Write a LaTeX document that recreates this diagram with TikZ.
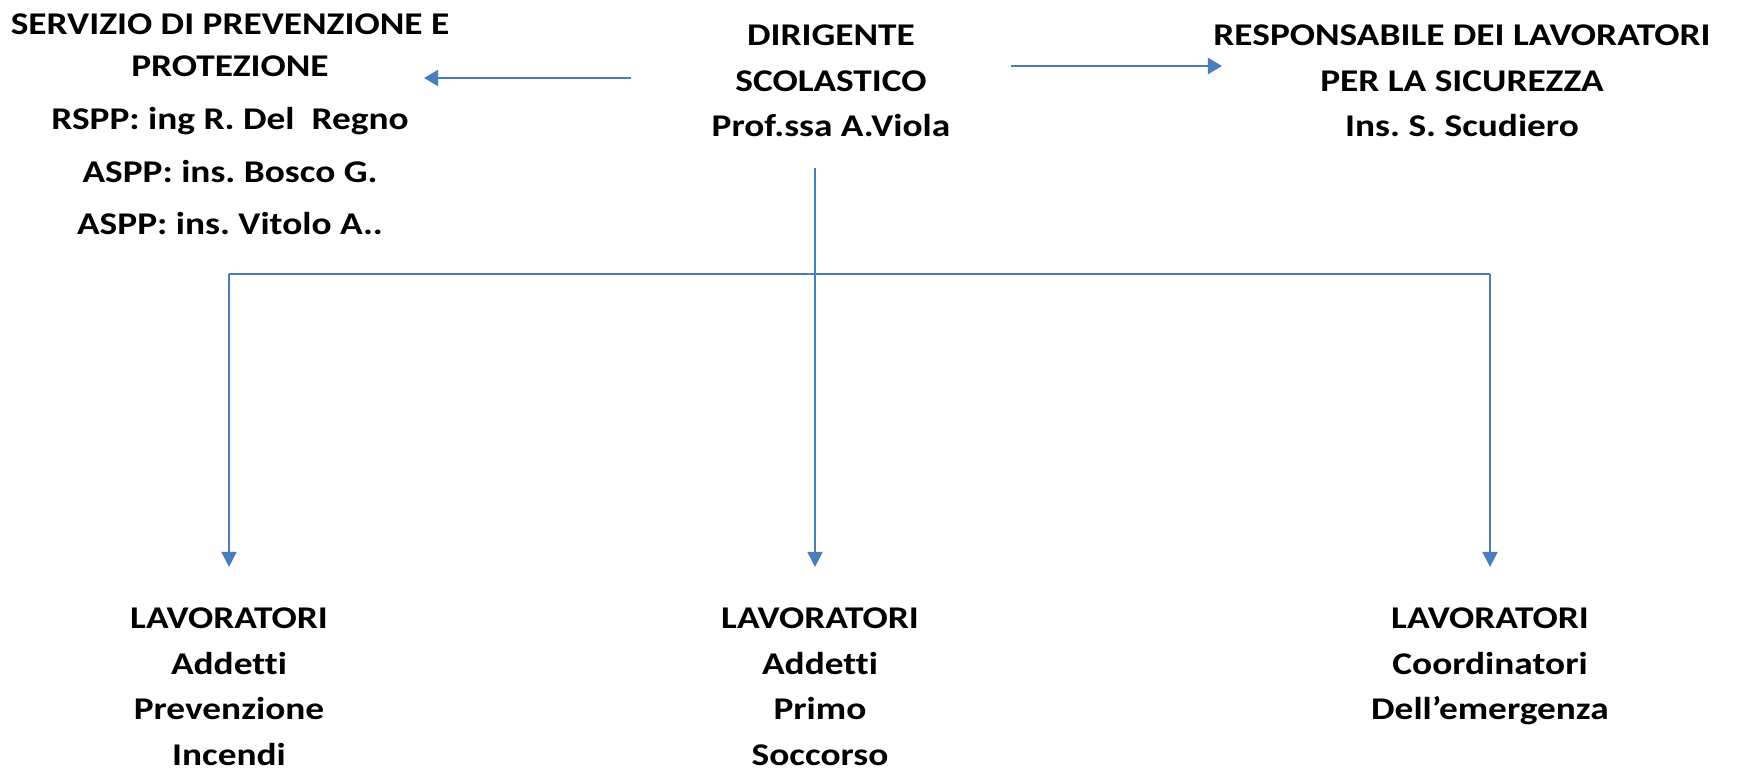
\documentclass[tikz,border=0pt]{standalone}
\usepackage{fontspec}
\setmainfont{Carlito}[FakeStretch=1.18, Ligatures=CommonOff]
\usetikzlibrary{arrows.meta}
\definecolor{linkblue}{HTML}{4A7EBB}
\frenchspacing
\tikzset{
  txt/.style={align=center, inner sep=0pt, anchor=north, font=\fontsize{9}{13}\selectfont\bfseries},
  arr/.style={draw=linkblue, line width=0.8pt, -{Triangle[length=4pt,width=4.5pt]}},
  branch/.style={draw=linkblue, line width=0.5pt},
  down/.style={branch, -{Triangle[length=4.3pt,width=4.3pt]}}
}
\begin{document}
\begin{tikzpicture}[x=0.01cm, y=-0.01cm]
  \useasboundingbox (0,0) rectangle (1737,769);

  % testi
  \node[txt] (spp) at (230,13) {SERVIZIO DI PREVENZIONE E\\[-1pt] PROTEZIONE\\[2pt] RSPP: ing R. Del\ \ Regno\\[2pt] ASPP: ins. Bosco G.\\[2pt] ASPP: ins. Vitolo A..};
  \node[txt] (ds) at (831,24) {DIRIGENTE\\ SCOLASTICO\\ Prof.ssa A.Viola};
  \node[txt] (rls) at (1462,24) {RESPONSABILE DEI LAVORATORI\\ PER LA SICUREZZA\\ Ins. S. Scudiero};

  \node[txt] (pi) at (229,607) {LAVORATORI\\ Addetti\\ Prevenzione\\ Incendi};
  \node[txt] (ps) at (820,607) {LAVORATORI\\ Addetti\\ Primo\\ Soccorso};
  \node[txt] (ce) at (1490,607) {LAVORATORI\\ Coordinatori\\ Dell’emergenza};

  % frecce in alto
  \coordinate (sx) at (631,78);
  \coordinate (spp in) at (424,78);
  \coordinate (dx) at (1011,66);
  \coordinate (rls in) at (1222,66);
  \draw[arr] (sx) -- (spp in);
  \draw[arr] (dx) -- (rls in);

  % rami verso il basso
  \coordinate (top) at (815,168);
  \coordinate (hub) at (815,274);
  \coordinate (bl) at (229,274);
  \coordinate (br) at (1490,274);
  \draw[branch] (top) -- (hub);
  \draw[branch] (bl) -- (br);
  \draw[down] (bl) -- ([yshift=0.4cm]pi.north);
  \draw[down] (hub) -- ([yshift=0.4cm]pi.north -| hub);
  \draw[down] (br) -- ([yshift=0.4cm]ce.north);

\end{tikzpicture}
\end{document}
